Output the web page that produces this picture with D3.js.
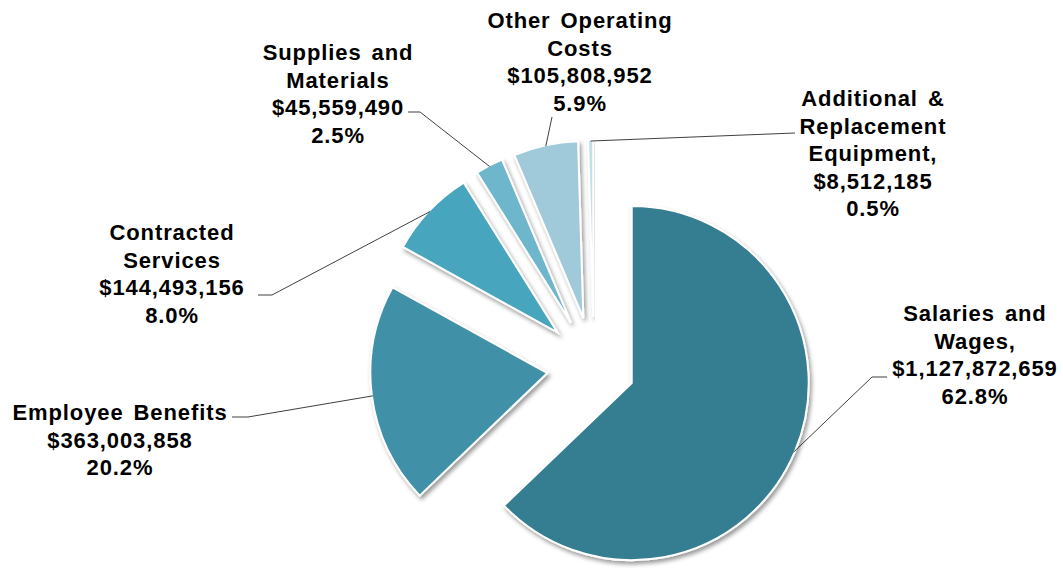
<!DOCTYPE html>
<html>
<head>
<meta charset="utf-8">
<script src="https://cdn.jsdelivr.net/npm/d3@7"></script>
<style>
  body { margin: 0; background: #fff; }
  text { font-family: "Liberation Sans", Arial, sans-serif; font-weight: bold; font-size: 22px; fill: #000; letter-spacing: 0.9px; word-spacing: 3px; }
</style>
</head>
<body>
<svg id="chart" width="1063" height="571"></svg>
<script>
// data
var categories = ["Salaries and Wages", "Employee Benefits", "Contracted Services",
                  "Supplies and Materials", "Other Operating Costs", "Additional & Replacement Equipment"];
var nameLines = [["Salaries and", "Wages,"], ["Employee Benefits"], ["Contracted", "Services"],
                 ["Supplies and", "Materials"], ["Other Operating", "Costs"], ["Additional &", "Replacement", "Equipment,"]];
var amounts = [1127872659, 363003858, 144493156, 45559490, 105808952, 8512185];

// style / layout
var colors = ["#357d90", "#4091a8", "#47a5bd", "#6eb6cc", "#a0c9da", "#c3dfea"];
var explode = [41, 47, 50, 50, 50, 50];
var labelAt = [[975, 321], [120, 420], [172, 240], [338, 60], [580, 28], [873, 106]];
var leaderFrom = [[887, 377, 872], [232, 417, 248], [258, 295, 272], [408, 112, 420], [552, 117, null], [795, 133, null]];
var cx = 594, cy = 367, radius = 177, lineH = 27.5;

var total = d3.sum(amounts);
var fmtMoney = d3.format("$,"), fmtPct = d3.format(".1%");

var svg = d3.select("#chart");

var defs = svg.append("defs");
var f = defs.append("filter").attr("id", "shadow")
    .attr("x", "-20%").attr("y", "-20%").attr("width", "140%").attr("height", "140%");
f.append("feDropShadow").attr("dx", 2).attr("dy", 3).attr("stdDeviation", 2.2)
    .attr("flood-color", "#000").attr("flood-opacity", 0.4);

var pie = d3.pie().sort(null).value(function(d) { return d; });
var arcs = pie(amounts);
var arc = d3.arc().innerRadius(0).outerRadius(radius);

function mid(d) { return (d.startAngle + d.endAngle) / 2; }
function center(d, i) {
    var a = mid(d);
    return [cx + explode[i] * Math.sin(a), cy - explode[i] * Math.cos(a)];
}

// slices
svg.append("g").selectAll("path")
    .data(arcs)
    .enter().append("path")
    .attr("transform", function(d, i) { var c = center(d, i); return "translate(" + c[0] + "," + c[1] + ")"; })
    .attr("d", arc)
    .style("fill", function(d, i) { return colors[i]; })
    .style("stroke", "#fff")
    .style("stroke-width", 2)
    .style("stroke-linejoin", "miter")
    .attr("filter", "url(#shadow)");

// leader lines
svg.append("g").selectAll("polyline")
    .data(arcs)
    .enter().append("polyline")
    .attr("points", function(d, i) {
        var c = center(d, i), a = mid(d);
        var end = [c[0] + (radius - 1) * Math.sin(a), c[1] - (radius - 1) * Math.cos(a)];
        var s = leaderFrom[i];
        var pts = [[s[0], s[1]]];
        if (s[2] !== null) pts.push([s[2], s[1]]);
        pts.push(end);
        return pts.map(function(p) { return p.join(","); }).join(" ");
    })
    .style("fill", "none")
    .style("stroke", "#404040")
    .style("stroke-width", 1);

// labels
var labels = svg.append("g").selectAll("text")
    .data(arcs)
    .enter().append("text")
    .attr("text-anchor", "middle")
    .attr("x", function(d, i) { return labelAt[i][0]; })
    .attr("y", function(d, i) { return labelAt[i][1]; });

labels.each(function(d, i) {
    var lines = nameLines[i].concat([fmtMoney(amounts[i]), fmtPct(amounts[i] / total)]);
    d3.select(this).selectAll("tspan")
        .data(lines)
        .enter().append("tspan")
        .attr("x", labelAt[i][0])
        .attr("dy", function(t, j) { return j === 0 ? 0 : lineH; })
        .text(function(t) { return t; });
});
</script>
</body>
</html>
